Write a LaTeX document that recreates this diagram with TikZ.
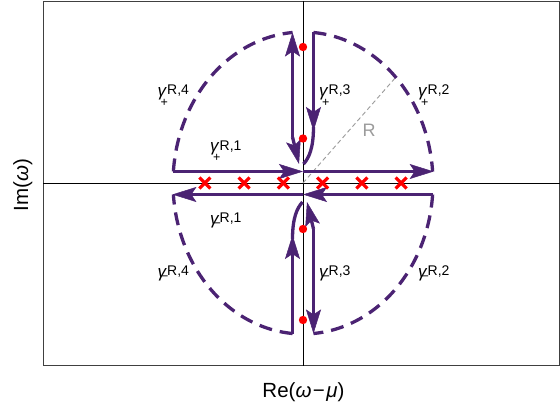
\documentclass[tikz,border=0pt]{standalone}
\usepackage{fontspec}
\setmainfont{Liberation Sans}
\usetikzlibrary{arrows.meta}
\definecolor{cpurple}{RGB}{75,35,115}
\definecolor{cred}{RGB}{255,0,0}
\definecolor{cgray}{RGB}{155,155,155}
\newcommand\supf{\fontsize{14}{14}\selectfont}
\newcommand\subf{\fontsize{12.5}{12.5}\selectfont}
\newcommand\gp[1]{\rlap{\itshape γ}\rlap{\kern3pt\raisebox{-9.5pt}{\subf +}}\kern9.5pt\raisebox{1.8pt}{\supf R,#1}}
\newcommand\gm[1]{\rlap{\itshape γ}\rlap{\kern3.5pt\raisebox{-3pt}{\subf −}}\kern9.5pt\raisebox{1.8pt}{\supf R,#1}}
\tikzset{
  arr/.style={-{Stealth[length=24pt,width=15pt,inset=5pt,line width=0.5pt]}},
  cl/.style={draw=cpurple, line width=3.3pt},
  dl/.style={cl, dash pattern=on 13pt off 8pt},
  crossline/.style={draw=cred, line width=3.2pt},
  lab/.style={anchor=base west, inner sep=0pt, font=\fontsize{17}{20}\selectfont},
}
\newcommand\halfcontour{%
  \draw[cl,arr] (173.4,171.5) -- (303,171.5);
  \draw[cl,arr] (303,171.5) -- (433.6,171.5);
  \draw[dl] plot[domain=-175.6:-94.6,samples=60,smooth] ({303+130*cos(\x)},{183+151*sin(\x)});
  \draw[dl] plot[domain=-85.4:-4.4,samples=60,smooth] ({303+130*cos(\x)},{183+151*sin(\x)});
  \draw[cl,arr] (292.5,137) -- (292.5,32.5);
  \draw[cl,arr] (292.5,137) -- (299,164);
  \draw[cl,arr] (313.5,32.5) -- (313.5,131);
  \draw[cl] (313.5,127) .. controls (313.5,148) and (309,158) .. (303.5,164);
}
\begin{document}
\begin{tikzpicture}[x=1pt,y=-1pt,font=\fontsize{20.5}{24}\selectfont]
\useasboundingbox (0,0) rectangle (560,412);
\fill[white] (0,0) rectangle (560,412);
% frame and axes
\draw[line width=0.9pt, black!75] (43,1) rectangle (559.5,365.7);
\draw[line width=0.8pt] (303,1) -- (303,365.7);
\draw[line width=0.8pt] (43,183) -- (559.5,183);
% radius line
\draw[cgray, line width=0.9pt, dash pattern=on 4.5pt off 3pt] (303,183) -- (396,77);
\node[text=cgray, anchor=base, inner sep=0pt, font=\fontsize{18}{18}\selectfont] (rlab) at (369,136) {R};
% contours
\halfcontour
\begin{scope}[rotate around={180:(303,183)}]
\halfcontour
\end{scope}
% poles
\foreach \d in {-98.2,-58.9,-19.6,19.6,58.9,98.2}{
  \draw[crossline] ({303+\d-5.5},{183-5.5}) -- ++(11,11);
  \draw[crossline] ({303+\d-5.5},{183+5.5}) -- ++(11,-11);
}
\foreach \y in {47,138.5,229,320}{
  \fill[cred] (303,\y) circle[radius=4.2pt];
}
% labels
\node[lab] (g4p) at (157.5,96.6) {\gp{4}};
\node[lab] (g3p) at (319,96.6) {\gp{3}};
\node[lab] (g2p) at (418,96.6) {\gp{2}};
\node[lab] (g1p) at (210,151.8) {\gp{1}};
\node[lab] (g1m) at (210,224.5) {\gm{1}};
\node[lab] (g4m) at (157.5,277.5) {\gm{4}};
\node[lab] (g3m) at (319,277.5) {\gm{3}};
\node[lab] (g2m) at (418,277.5) {\gm{2}};
% axis labels
\node[anchor=base, inner sep=0pt] (xl) at (303.5,397.3) {Re(\textit{ω}\kern1.5pt−\kern1.5pt\textit{μ})};
\node[rotate=90, anchor=base, inner sep=0pt] (yl) at (28,185) {Im(\textit{ω})};
\end{tikzpicture}
\end{document}
